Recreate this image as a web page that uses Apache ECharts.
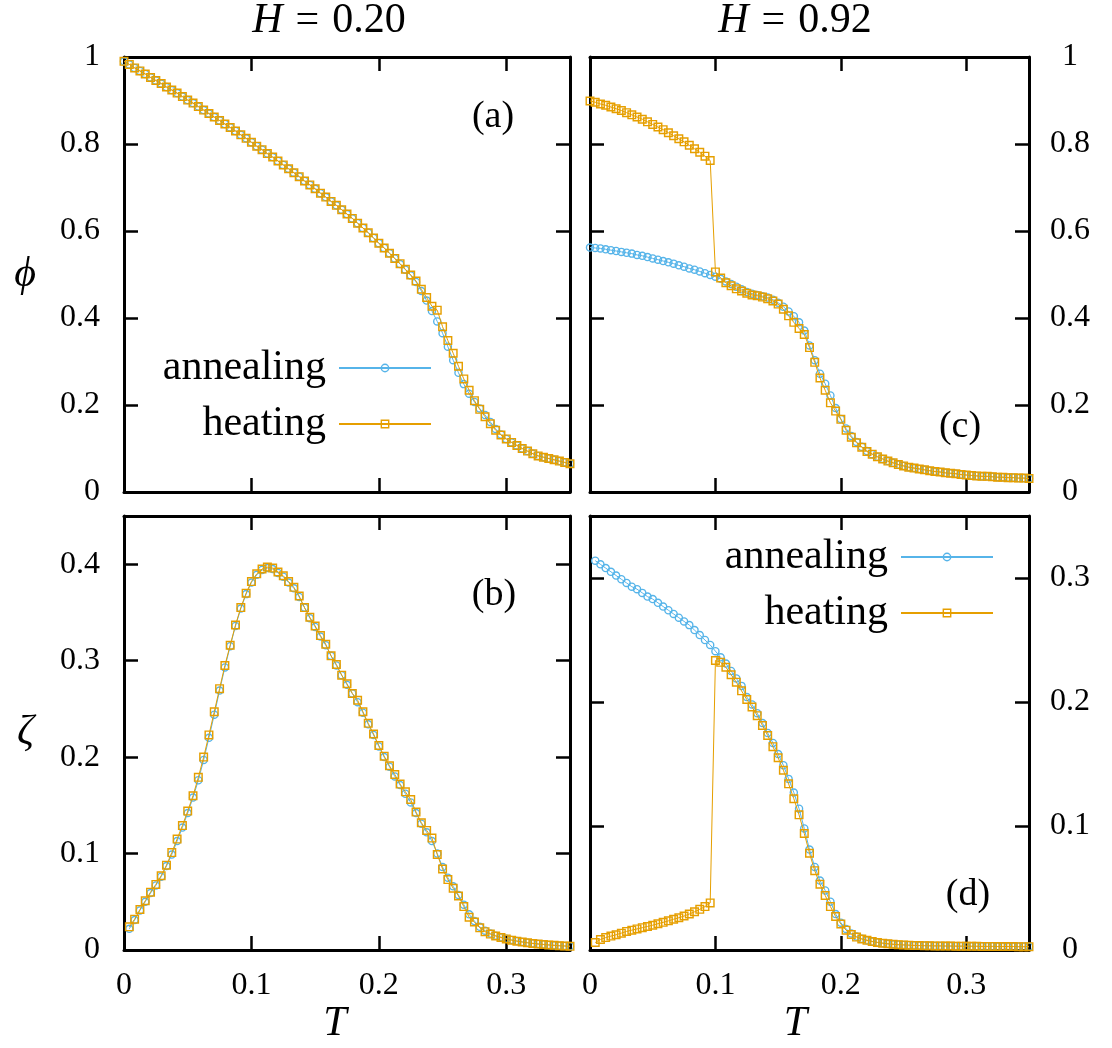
<!DOCTYPE html>
<html>
<head>
<meta charset="utf-8">
<script src="https://cdn.jsdelivr.net/npm/echarts@6/dist/echarts.min.js"></script>
<style>html,body{margin:0;padding:0;background:#fff}#chart{width:1112px;height:1048px}</style>
</head>
<body>
<div id="chart"></div>
<script>
// Temperature grid (x values)
const T = [0,0.00417,0.00833,0.0125,0.01667,0.02083,0.025,0.02917,0.03333,0.0375,
 0.04167,0.04583,0.05,0.05417,0.05833,0.0625,0.06667,0.07083,0.075,0.07917,
 0.08333,0.0875,0.09167,0.09583,0.1,0.10417,0.10833,0.1125,0.11667,0.12083,
 0.125,0.12917,0.13333,0.1375,0.14167,0.14583,0.15,0.15417,0.15833,0.1625,
 0.16667,0.17083,0.175,0.17917,0.18333,0.1875,0.19167,0.19583,0.2,0.20417,
 0.20833,0.2125,0.21667,0.22083,0.225,0.22917,0.23333,0.2375,0.24167,0.24583,
 0.25,0.25417,0.25833,0.2625,0.26667,0.27083,0.275,0.27917,0.28333,0.2875,
 0.29167,0.29583,0.3,0.30417,0.30833,0.3125,0.31667,0.32083,0.325,0.32917,
 0.33333,0.3375,0.34167,0.34583,0.35];

// Panel (a): phi, H = 0.20
const phiAnnealA = [0.990,0.983,0.975,0.968,0.961,0.953,0.946,0.939,0.931,0.924,
 0.917,0.909,0.901,0.894,0.886,0.878,0.870,0.862,0.854,0.846,
 0.838,0.830,0.821,0.813,0.804,0.795,0.787,0.778,0.770,0.761,
 0.752,0.743,0.734,0.725,0.715,0.706,0.697,0.687,0.678,0.668,
 0.659,0.649,0.639,0.629,0.618,0.607,0.596,0.584,0.572,0.561,
 0.549,0.537,0.524,0.511,0.498,0.483,0.462,0.440,0.416,0.392,
 0.365,0.334,0.303,0.274,0.248,0.226,0.207,0.192,0.177,0.161,
 0.145,0.132,0.122,0.114,0.107,0.100,0.094,0.088,0.083,0.080,
 0.077,0.074,0.071,0.068,0.065];
const phiHeatA = [0.990,0.983,0.975,0.968,0.961,0.953,0.946,0.939,0.931,0.924,
 0.917,0.909,0.901,0.894,0.886,0.878,0.870,0.862,0.854,0.846,
 0.838,0.830,0.821,0.813,0.804,0.795,0.787,0.778,0.770,0.761,
 0.752,0.743,0.734,0.725,0.715,0.706,0.697,0.687,0.678,0.668,
 0.659,0.649,0.639,0.629,0.618,0.607,0.596,0.584,0.572,0.561,
 0.549,0.537,0.525,0.512,0.499,0.485,0.466,0.447,0.427,0.418,
 0.380,0.348,0.319,0.289,0.260,0.234,0.210,0.190,0.173,0.157,
 0.142,0.131,0.122,0.114,0.107,0.100,0.094,0.088,0.083,0.080,
 0.077,0.074,0.071,0.068,0.065];

// Panel (c): phi, H = 0.92
const phiAnnealC = [0.562,0.561,0.560,0.558,0.556,0.554,0.552,0.550,0.548,0.545,
 0.543,0.540,0.537,0.534,0.531,0.528,0.525,0.521,0.518,0.514,
 0.511,0.507,0.503,0.499,0.495,0.490,0.484,0.478,0.472,0.466,
 0.460,0.456,0.453,0.450,0.447,0.442,0.435,0.426,0.415,0.404,
 0.390,0.371,0.337,0.303,0.272,0.249,0.222,0.193,0.168,0.146,
 0.129,0.115,0.104,0.094,0.087,0.081,0.076,0.071,0.067,0.063,
 0.060,0.057,0.055,0.053,0.051,0.049,0.047,0.046,0.044,0.043,
 0.042,0.040,0.039,0.038,0.037,0.036,0.036,0.035,0.034,0.034,
 0.033,0.033,0.032,0.032,0.031];
const phiHeatC = [0.899,0.896,0.892,0.889,0.885,0.881,0.877,0.872,0.867,0.862,
 0.857,0.851,0.845,0.839,0.833,0.826,0.819,0.812,0.805,0.797,
 0.789,0.781,0.772,0.762,0.506,0.492,0.481,0.474,0.467,0.462,
 0.457,0.453,0.451,0.448,0.444,0.439,0.432,0.420,0.405,0.390,
 0.376,0.362,0.332,0.298,0.262,0.234,0.205,0.186,0.167,0.142,
 0.126,0.113,0.103,0.093,0.087,0.081,0.076,0.071,0.067,0.063,
 0.060,0.057,0.055,0.053,0.051,0.049,0.047,0.046,0.044,0.043,
 0.042,0.040,0.039,0.038,0.037,0.036,0.036,0.035,0.034,0.034,
 0.033,0.033,0.032,0.032,0.031];

// Panel (b): zeta, H = 0.20
const zetaAnnealB = [null,0.022,0.031,0.041,0.050,0.059,0.067,0.076,0.087,0.099,
 0.113,0.127,0.142,0.158,0.176,0.197,0.220,0.244,0.269,0.293,
 0.315,0.336,0.354,0.369,0.381,0.389,0.394,0.396,0.395,0.391,
 0.387,0.381,0.375,0.366,0.355,0.344,0.335,0.325,0.316,0.305,
 0.295,0.285,0.275,0.266,0.257,0.246,0.234,0.223,0.211,0.200,
 0.190,0.180,0.171,0.162,0.153,0.142,0.131,0.122,0.113,0.100,
 0.086,0.075,0.066,0.057,0.047,0.037,0.030,0.024,0.020,0.0170,
 0.0148,0.0132,0.0117,0.0104,0.0093,0.0084,0.0076,0.0069,0.0063,0.0058,
 0.0053,0.0049,0.0045,0.0042,0.0039];
const zetaHeatB = [null,0.024,0.032,0.042,0.051,0.060,0.068,0.077,0.088,0.101,
 0.115,0.129,0.144,0.160,0.179,0.200,0.223,0.247,0.271,0.295,
 0.316,0.337,0.355,0.370,0.382,0.390,0.395,0.397,0.396,0.392,
 0.388,0.382,0.376,0.367,0.355,0.345,0.336,0.326,0.317,0.305,
 0.296,0.285,0.276,0.266,0.259,0.247,0.235,0.224,0.212,0.201,
 0.191,0.182,0.172,0.164,0.156,0.143,0.132,0.124,0.116,0.099,
 0.084,0.073,0.064,0.056,0.045,0.034,0.029,0.023,0.019,0.0165,
 0.0145,0.013,0.0115,0.0102,0.0092,0.0083,0.0075,0.0068,0.0062,0.0057,
 0.0052,0.0048,0.0044,0.0041,0.0038];

// Panel (d): zeta, H = 0.92
const zetaAnnealD = [null,0.314,0.311,0.308,0.305,0.302,0.299,0.296,0.293,0.291,
 0.288,0.285,0.283,0.280,0.277,0.274,0.271,0.268,0.265,0.262,
 0.258,0.254,0.250,0.246,0.241,0.236,0.231,0.225,0.219,0.213,
 0.204,0.198,0.191,0.183,0.175,0.167,0.158,0.149,0.138,0.127,
 0.114,0.098,0.081,0.067,0.056,0.048,0.039,0.029,0.022,0.017,
 0.0134,0.0108,0.0090,0.0078,0.0068,0.0061,0.0055,0.0050,0.0046,0.0043,
 0.0041,0.0039,0.0037,0.0036,0.0035,0.0034,0.0033,0.0033,0.0032,0.0032,
 0.0031,0.0031,0.0030,0.0030,0.0030,0.0029,0.0029,0.0029,0.0028,0.0028,
 0.0028,0.0028,0.0027,0.0027,0.0027];
const zetaHeatD = [null,0.0060,0.0085,0.0100,0.0112,0.0123,0.0136,0.0150,0.0160,0.0170,
 0.0180,0.0190,0.0200,0.0212,0.0223,0.0235,0.0248,0.0260,0.0274,0.0290,
 0.0308,0.0328,0.0350,0.0380,0.2335,0.232,0.228,0.222,0.216,0.209,
 0.202,0.196,0.189,0.181,0.173,0.164,0.155,0.145,0.134,0.122,
 0.109,0.094,0.078,0.064,0.053,0.044,0.035,0.027,0.021,0.0160,
 0.0125,0.0104,0.0089,0.0078,0.0069,0.0061,0.0055,0.0050,0.0046,0.0043,
 0.0041,0.0039,0.0037,0.0036,0.0035,0.0034,0.0033,0.0033,0.0032,0.0032,
 0.0031,0.0031,0.0030,0.0030,0.0030,0.0029,0.0029,0.0029,0.0028,0.0028,
 0.0028,0.0028,0.0027,0.0027,0.0027];

const seriesNames = ['annealing', 'heating'];
const panelTitles = ['0.20', '0.92'];
const panelLabels = ['(a)', '(b)', '(c)', '(d)'];

const FONT = '"Liberation Serif", "Times New Roman", serif';
const BLUE = '#56b4e9', ORANGE = '#e69f00';
const SQUARE = 'path://M0,0L10,0L10,10L0,10Z M1.6,1.6L1.6,8.4L8.4,8.4L8.4,1.6Z';
const CIRCLE = 'path://M5,0A5,5,0,1,1,5,10A5,5,0,1,1,5,0Z M5,1.6A3.4,3.4,0,1,0,5,8.4A3.4,3.4,0,1,0,5,1.6Z';

const fmt = v => String(+(+v).toFixed(2));

function xAx(gi, pos, labels, extra) {
  return Object.assign({
    type: 'value', gridIndex: gi, position: pos, min: 0, max: 0.35, interval: 0.1,
    axisLine: { show: true, onZero: false, lineStyle: { color: '#000', width: 3 } },
    axisTick: { show: true, inside: true, length: 14, lineStyle: { color: '#000', width: 2.5 } },
    axisLabel: { show: labels, showMaxLabel: false, margin: 20, fontFamily: FONT, fontSize: 32, color: '#000', formatter: fmt },
    splitLine: { show: false }
  }, extra || {});
}
function yAx(gi, pos, max, interval, labels, extra) {
  const right = pos === 'right';
  return Object.assign({
    type: 'value', gridIndex: gi, position: pos, min: 0, max: max, interval: interval,
    axisLine: { show: true, onZero: false, lineStyle: { color: '#000', width: 3 } },
    axisTick: { show: true, inside: true, length: 14, lineStyle: { color: '#000', width: 2.5 } },
    axisLabel: { show: labels, showMaxLabel: max === 1, margin: right ? 41 : 24, align: right ? 'center' : 'right',
      fontFamily: FONT, fontSize: 32, color: '#000', formatter: fmt },
    splitLine: { show: false }
  }, extra || {});
}

const nameStyle = { fontFamily: FONT, fontStyle: 'italic', fontSize: 42, color: '#000' };

function mkSeries(name, xi, yi, arr, color, symbol, size, z) {
  const data = [];
  T.forEach((t, i) => { if (arr[i] != null) data.push([t, arr[i]]); });
  return {
    type: 'line', name: name, xAxisIndex: xi, yAxisIndex: yi, data: data,
    symbol: symbol, symbolSize: size, showAllSymbol: true, z: z,
    lineStyle: { color: color, width: 1 },
    itemStyle: { color: color, borderWidth: 0 },
    emphasis: { disabled: true }, animation: false
  };
}

const legendBase = {
  data: seriesNames, orient: 'vertical', align: 'right', selectedMode: false,
  itemWidth: 92, itemHeight: 11, itemGap: 14, padding: 0,
  textStyle: { fontFamily: FONT, fontSize: 42, color: '#000', padding: [0, 8, 0, 0] }
};

function titleRich(val, cx) {
  return {
    text: '{i|H}{e|=}{n|' + val + '}', left: cx, top: 0, padding: 0, textAlign: 'center',
    textStyle: {
      fontFamily: FONT, fontSize: 42, fontWeight: 'normal', color: '#000',
      rich: {
        i: { fontFamily: FONT, fontSize: 42, fontStyle: 'italic', color: '#000' },
        e: { fontFamily: FONT, fontSize: 42, color: '#000', padding: [0, 13] },
        n: { fontFamily: FONT, fontSize: 42, color: '#000' }
      }
    }
  };
}

function panelLabel(txt, x, y) {
  return { type: 'text', x: x, y: y, z: 100,
    style: { text: txt, font: '38px "Liberation Serif"', fill: '#000', align: 'center', verticalAlign: 'middle',
      textAlign: 'center', textVerticalAlign: 'middle' } };
}

const option = {
  backgroundColor: '#fff',
  animation: false,
  title: [titleRich(panelTitles[0], 329), titleRich(panelTitles[1], 795)],
  grid: [
    { left: 124, top: 57, width: 446, height: 435 },
    { left: 590, top: 57, width: 439, height: 435 },
    { left: 124, top: 516, width: 446, height: 434 },
    { left: 590, top: 516, width: 439, height: 434 }
  ],
  xAxis: [
    xAx(0, 'bottom', false), xAx(0, 'top', false),
    xAx(1, 'bottom', false), xAx(1, 'top', false),
    xAx(2, 'bottom', true, { name: 'T', nameLocation: 'middle', nameGap: 50, nameTextStyle: Object.assign({ padding: [0, 24, 0, 0] }, nameStyle) }),
    xAx(2, 'top', false),
    xAx(3, 'bottom', true, { name: 'T', nameLocation: 'middle', nameGap: 50, nameTextStyle: Object.assign({ padding: [0, 28, 0, 0] }, nameStyle) }),
    xAx(3, 'top', false)
  ],
  yAxis: [
    yAx(0, 'left', 1, 0.2, true, { name: 'ϕ', nameLocation: 'middle', nameRotate: 0, nameGap: 88, nameTextStyle: Object.assign({ padding: [0, 0, 16, 0] }, nameStyle) }),
    yAx(0, 'right', 1, 0.2, false),
    yAx(1, 'left', 1, 0.2, false),
    yAx(1, 'right', 1, 0.2, true),
    yAx(2, 'left', 0.45, 0.1, true, { name: 'ζ', nameLocation: 'middle', nameRotate: 0, nameGap: 90, nameTextStyle: Object.assign({ padding: [16, 0, 0, 0] }, nameStyle) }),
    yAx(2, 'right', 0.45, 0.1, false),
    yAx(3, 'left', 0.35, 0.1, false),
    yAx(3, 'right', 0.35, 0.1, true)
  ],
  legend: [
    Object.assign({}, legendBase, { right: 680, top: 347 }),
    Object.assign({}, legendBase, { right: 118, top: 536 })
  ],
  series: [
    mkSeries(seriesNames[0], 0, 0, phiAnnealA, BLUE, CIRCLE, 8.5, 2),
    mkSeries(seriesNames[1], 0, 0, phiHeatA, ORANGE, SQUARE, 9, 3),
    mkSeries(seriesNames[0], 2, 2, phiAnnealC, BLUE, CIRCLE, 8.5, 2),
    mkSeries(seriesNames[1], 2, 2, phiHeatC, ORANGE, SQUARE, 9, 3),
    mkSeries(seriesNames[0], 4, 4, zetaAnnealB, BLUE, CIRCLE, 8.5, 2),
    mkSeries(seriesNames[1], 4, 4, zetaHeatB, ORANGE, SQUARE, 9, 3),
    mkSeries(seriesNames[0], 6, 6, zetaAnnealD, BLUE, CIRCLE, 8.5, 2),
    mkSeries(seriesNames[1], 6, 6, zetaHeatD, ORANGE, SQUARE, 9, 3)
  ],
  graphic: [
    panelLabel(panelLabels[0], 493, 117),
    panelLabel(panelLabels[1], 494, 595),
    panelLabel(panelLabels[2], 960, 427),
    panelLabel(panelLabels[3], 968, 895)
  ]
};

const chart = echarts.init(document.getElementById('chart'), null, { renderer: 'canvas' });
chart.setOption(option);
</script>
</body>
</html>
